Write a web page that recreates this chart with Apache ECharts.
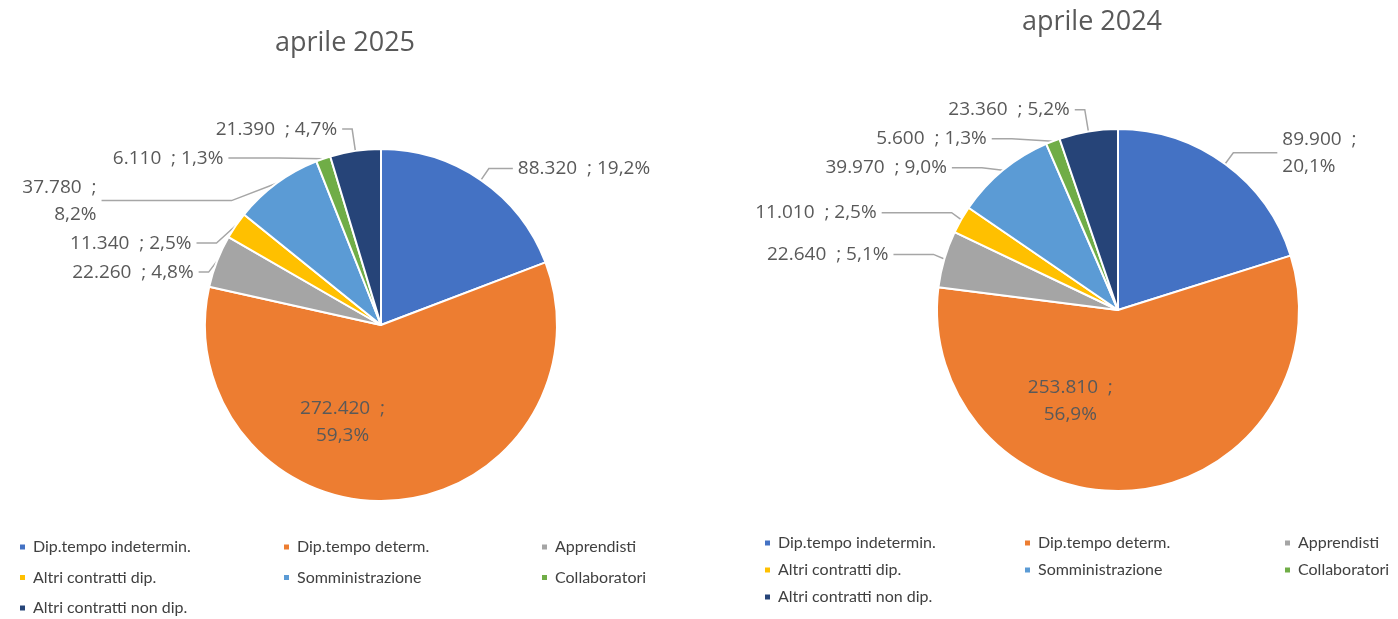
<!DOCTYPE html>
<html>
<head>
<meta charset="utf-8">
<script src="https://cdn.jsdelivr.net/npm/echarts@6/dist/echarts.min.js"></script>
<style>
  html, body { margin: 0; padding: 0; background: #fff; }
  #chart { width: 1398px; height: 619px; }
</style>
</head>
<body>
<div id="chart"></div>
<script>
var categories = ['Dip.tempo indetermin.', 'Dip.tempo determ.', 'Apprendisti', 'Altri contratti dip.', 'Somministrazione', 'Collaboratori', 'Altri contratti non dip.'];
var colors = ['#4472C4', '#ED7D31', '#A5A5A5', '#FFC000', '#5B9BD5', '#70AD47', '#264478'];

var values2025 = [88320, 272420, 22260, 11340, 37780, 6110, 21390];
var percent2025 = ['19,2', '59,3', '4,8', '2,5', '8,2', '1,3', '4,7'];
var values2024 = [89900, 253810, 22640, 11010, 39970, 5600, 23360];
var percent2024 = ['20,1', '56,9', '5,1', '2,5', '9,0', '1,3', '5,2'];

var titles = ['aprile 2025', 'aprile 2024'];

var dom = document.getElementById('chart');
var chart = echarts.init(dom);

function fmt(v) {
    return String(v).replace(/\B(?=(\d{3})+(?!\d))/g, '.');
}

// opts.wrap: labels broken onto two lines in the original
// opts.lines: [length, length2] of each leader line
function buildData(values, pct, opts) {
    return values.map(function (v, i) {
        var sep = opts.wrap.indexOf(i) >= 0 ? '  ;\n' : '  ; ';
        var item = {
            name: categories[i],
            value: v,
            itemStyle: { color: colors[i] },
            label: { formatter: fmt(v) + sep + pct[i] + '%' },
            labelLine: { length: opts.lines[i][0], length2: opts.lines[i][1] }
        };
        if (i === 1) {
            item.label.position = 'inside';
            item.label.offset = opts.inside;
            item.label.formatter = fmt(v) + '  ;\n' + pct[i] + '%';
        }
        return item;
    });
}

var labelStyle = {
    color: '#595959',
    fontFamily: 'Open Sans',
    fontSize: 19,
    lineHeight: 27,
    align: 'center'
};

function legendCol(left, top, gap, names) {
    return {
        orient: 'vertical',
        left: left,
        top: top,
        padding: 0,
        itemGap: gap,
        itemWidth: 7,
        itemHeight: 7,
        icon: 'rect',
        selectedMode: false,
        data: names,
        textStyle: { color: '#404040', fontFamily: 'Lato', fontSize: 16, lineHeight: 16, padding: [0, 0, 0, 2] }
    };
}

var titleStyle = { color: '#595959', fontFamily: 'Open Sans', fontSize: 27, fontWeight: 'normal' };
var lineStyle = { color: '#A6A6A6', width: 1.5 };

option = {
    animation: false,
    title: [
        { text: titles[0], left: 340, top: 25, textAlign: 'center', textStyle: titleStyle },
        { text: titles[1], left: 1087, top: 4, textAlign: 'center', textStyle: titleStyle }
    ],
    legend: [
        legendCol(18, 539, 14.5, [categories[0], categories[3], categories[6]]),
        legendCol(282, 539, 14.5, [categories[1], categories[4]]),
        legendCol(540, 539, 14.5, [categories[2], categories[5]]),
        legendCol(763, 535, 11, [categories[0], categories[3], categories[6]]),
        legendCol(1023, 535, 11, [categories[1], categories[4]]),
        legendCol(1283, 535, 11, [categories[2], categories[5]])
    ],
    series: [
        {
            name: titles[0],
            type: 'pie',
            center: [381, 325],
            radius: [0, 176],
            startAngle: 90,
            itemStyle: { borderColor: '#fff', borderWidth: 2 },
            label: labelStyle,
            labelLine: { lineStyle: lineStyle },
            data: buildData(values2025, percent2025, {
                wrap: [4],
                inside: [-45, 6],
                lines: [[14, 24], [0, 0], [8, 10], [10, 20], [22, 130], [22, 50], [22, 10]]
            })
        },
        {
            name: titles[1],
            type: 'pie',
            center: [1118, 310],
            radius: [0, 181],
            startAngle: 90,
            itemStyle: { borderColor: '#fff', borderWidth: 2 },
            label: labelStyle,
            labelLine: { lineStyle: lineStyle },
            data: buildData(values2024, percent2024, {
                wrap: [0],
                inside: [-56, -2],
                lines: [[14, 44], [0, 0], [16, 40], [14, 70], [16, 30], [24, 20], [22, 10]]
            })
        }
    ]
};

chart.setOption(option);
</script>
</body>
</html>
